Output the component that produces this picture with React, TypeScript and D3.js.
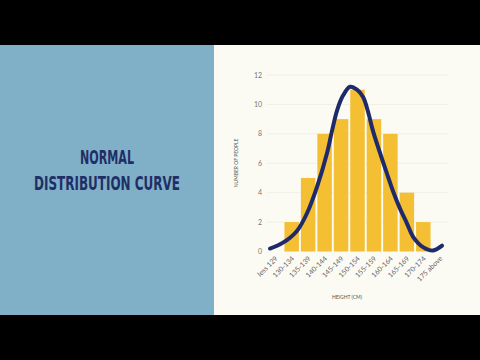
import * as d3 from 'd3';
import * as React from 'react';
import { useEffect, useRef } from 'react';

// height bins and counts
const categories = ['less 129', '130-134', '135-139', '140-144', '145-149', '150-154',
  '155-159', '160-164', '165-169', '170-174', '175 above'];
const counts = [0, 2, 5, 8, 9, 11, 9, 8, 4, 2, 0];
const yTicks = [0, 2, 4, 6, 8, 10, 12];

// hand-drawn curve, x in bin index units, y in people
const curveX = [-0.32, 0.47, 1.32, 1.93, 2.54, 3.15, 3.45, 3.76, 4.12, 4.55, 4.97, 5.34,
  5.64, 5.94, 6.37, 6.79, 7.16, 7.59, 8.01, 8.38, 8.98, 9.59, 10.14];
const curveY = [0.2, 0.6, 1.4, 2.6, 4.4, 6.7, 8.2, 9.6, 10.6, 11.2, 11.0, 10.5,
  9.5, 8.2, 6.7, 5.3, 4.1, 2.9, 1.9, 1.0, 0.3, 0.07, 0.4];

const W = 480;
const H = 360;

export default function App() {
  const ref = useRef<SVGSVGElement | null>(null);

  useEffect(() => {
    const svg = d3.select(ref.current);
    svg.selectAll('*').remove();

    // letterbox + panels
    svg.append('rect').attr('width', W).attr('height', H).attr('fill', '#000');
    svg.append('rect').attr('x', 0).attr('y', 45).attr('width', 214).attr('height', 270).attr('fill', '#80afc8');
    svg.append('rect').attr('x', 214).attr('y', 45).attr('width', 266).attr('height', 270).attr('fill', '#fbfbf4');

    const title = svg.append('g')
      .attr('fill', '#1f2f66')
      .attr('font-family', '"DejaVu Sans Condensed", "DejaVu Sans"')
      .attr('font-weight', 'bold')
      .attr('font-size', 19)
      .attr('text-anchor', 'middle');
    title.append('text').attr('x', 107).attr('y', 164)
      .attr('textLength', 54).attr('lengthAdjust', 'spacingAndGlyphs').text('NORMAL');
    title.append('text').attr('x', 107).attr('y', 190)
      .attr('textLength', 146).attr('lengthAdjust', 'spacingAndGlyphs').text('DISTRIBUTION CURVE');

    const x = d3.scaleBand().domain(categories).range([267, 448]).paddingInner(0.12).paddingOuter(0.06);
    const y = d3.scaleLinear().domain([0, 12]).range([251.5, 75]);
    const half = x.bandwidth() / 2;
    const u = d3.scaleLinear().domain([0, 10])
      .range([(x(categories[0]) as number) + half, (x(categories[10]) as number) + half]);

    // grid
    svg.append('g').selectAll('line').data(yTicks.slice(1)).enter().append('line')
      .attr('x1', 267).attr('x2', 448)
      .attr('y1', d => y(d)).attr('y2', d => y(d))
      .attr('stroke', '#efefe6').attr('stroke-width', 1);

    // y axis labels
    svg.append('g').selectAll('text').data(yTicks).enter().append('text')
      .attr('x', 262).attr('y', d => y(d) + 2.5)
      .attr('text-anchor', 'end')
      .attr('font-family', 'Lato').attr('font-size', 7).attr('fill', '#777')
      .text(d => d);

    // bars
    svg.append('g').selectAll('rect').data(counts).enter().append('rect')
      .attr('x', (d, i) => x(categories[i]) as number)
      .attr('width', x.bandwidth())
      .attr('y', d => y(d))
      .attr('height', d => y(0) - y(d))
      .attr('fill', '#f4bf32');

    // x labels
    svg.append('g').selectAll('text').data(categories).enter().append('text')
      .attr('transform', d => `translate(${(x(d) as number) + half + 3},${259}) rotate(-45)`)
      .attr('text-anchor', 'end')
      .attr('font-family', 'Lato').attr('font-size', 7).attr('fill', '#666')
      .text(d => d);

    // curve
    const pts: [number, number][] = curveX.map((cx, i) => [u(cx), y(curveY[i])]);
    svg.append('path')
      .attr('d', d3.line().curve(d3.curveCatmullRom)(pts) as string)
      .attr('fill', 'none')
      .attr('stroke', '#1f2a6b')
      .attr('stroke-width', 4)
      .attr('stroke-linecap', 'round')
      .attr('stroke-linejoin', 'round');

    // axis titles
    svg.append('text')
      .attr('transform', 'translate(238,163) rotate(-90)')
      .attr('text-anchor', 'middle')
      .attr('font-family', 'Lato').attr('font-size', 5).attr('fill', '#555')
      .text('NUMBER OF PEOPLE');
    svg.append('text')
      .attr('x', 347).attr('y', 299)
      .attr('text-anchor', 'middle')
      .attr('font-family', 'Lato').attr('font-size', 5).attr('fill', '#555')
      .text('HEIGHT (CM)');
  }, []);

  return (
    <svg ref={ref} width={W} height={H} style={{ position: 'absolute', left: 0, top: 0, display: 'block' }} />
  );
}
